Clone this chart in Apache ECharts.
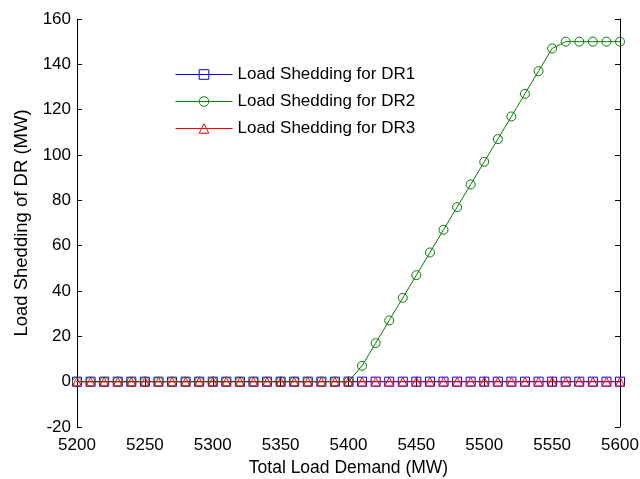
<!DOCTYPE html>
<html><head><meta charset="utf-8">
<script src="https://cdn.jsdelivr.net/npm/echarts@6/dist/echarts.min.js"></script>
<style>html,body{margin:0;padding:0;background:#fff}#c{width:640px;height:479px}</style>
</head><body><div id="c"></div>
<script>
const demand = [5200,5210,5220,5230,5240,5250,5260,5270,5280,5290,5300,5310,5320,5330,5340,5350,5360,5370,5380,5390,5400,5410,5420,5430,5440,5450,5460,5470,5480,5490,5500,5510,5520,5530,5540,5550,5560,5570,5580,5590,5600];
const dr1 = [0,0,0,0,0,0,0,0,0,0,0,0,0,0,0,0,0,0,0,0,0,0,0,0,0,0,0,0,0,0,0,0,0,0,0,0,0,0,0,0,0];
const dr2 = [0,0,0,0,0,0,0,0,0,0,0,0,0,0,0,0,0,0,0,0,0,7,17,27,37,47,57,67,77,87,97,107,117,127,137,147,150,150,150,150,150];
const dr3 = [0,0,0,0,0,0,0,0,0,0,0,0,0,0,0,0,0,0,0,0,0,0,0,0,0,0,0,0,0,0,0,0,0,0,0,0,0,0,0,0,0];
const names = ['Load Shedding for DR1','Load Shedding for DR2','Load Shedding for DR3'];
const xName = 'Total Load Demand (MW)';
const yName = 'Load Shedding of DR (MW)';

const FONT = 'Liberation Sans, Arial, sans-serif';
const pair = arr => demand.map((x,i)=>[x,arr[i]]);
const axisLine = {show:true, lineStyle:{color:'#000', width:1}};
const tick = {show:true, inside:true, length:5, lineStyle:{color:'#000'}};
function mk(name, data, color, symbol){
  return {name, type:'line', data:pair(data), symbol, symbolSize:9, showSymbol:true,
    lineStyle:{color, width:1}, itemStyle:{color:'rgba(0,0,0,0)', borderColor:color, borderWidth:1},
    emphasis:{disabled:true}, animation:false, z:2, xAxisIndex:0, yAxisIndex:0};
}
const chart = echarts.init(document.getElementById('c'), null, {renderer:'canvas'});
chart.setOption({
  animation:false,
  backgroundColor:'#fff',
  grid:{left:77, right:20, top:19, bottom:52, containLabel:false, outerBoundsMode:'none'},
  legend:{show:true, orient:'vertical', left:170, top:61, itemWidth:57, itemHeight:12, itemGap:10,
    lineStyle:{width:1}, itemStyle:{borderWidth:1},
    textStyle:{fontFamily:FONT, fontSize:17, color:'#000'}, data:names, selectedMode:false},
  xAxis:[{type:'value', min:5200, max:5600, interval:50, name:xName, nameLocation:'middle', nameGap:32,
    nameTextStyle:{fontFamily:FONT, fontSize:17.5, color:'#000'},
    axisLine, axisTick:tick, splitLine:{show:false},
    axisLabel:{fontFamily:FONT, fontSize:17, color:'#000', margin:10, formatter:v=>String(v)}},
   {type:'value', position:'top', min:5200, max:5600, interval:50, axisLine, axisTick:tick,
    axisLabel:{show:false}, splitLine:{show:false}}],
  yAxis:[{type:'value', min:-20, max:160, interval:20, name:yName, nameLocation:'middle', nameGap:45,
    nameTextStyle:{fontFamily:FONT, fontSize:18.5, color:'#000'},
    axisLine, axisTick:tick, splitLine:{show:false},
    axisLabel:{fontFamily:FONT, fontSize:17, color:'#000', margin:6}},
   {type:'value', position:'right', min:-20, max:160, interval:20, axisLine, axisTick:tick,
    axisLabel:{show:false}, splitLine:{show:false}}],
  series:[mk(names[0], dr1, '#0000ff', 'rect'), mk(names[1], dr2, '#008000', 'circle'), mk(names[2], dr3, '#ff0000', 'triangle')]
});
</script></body></html>
